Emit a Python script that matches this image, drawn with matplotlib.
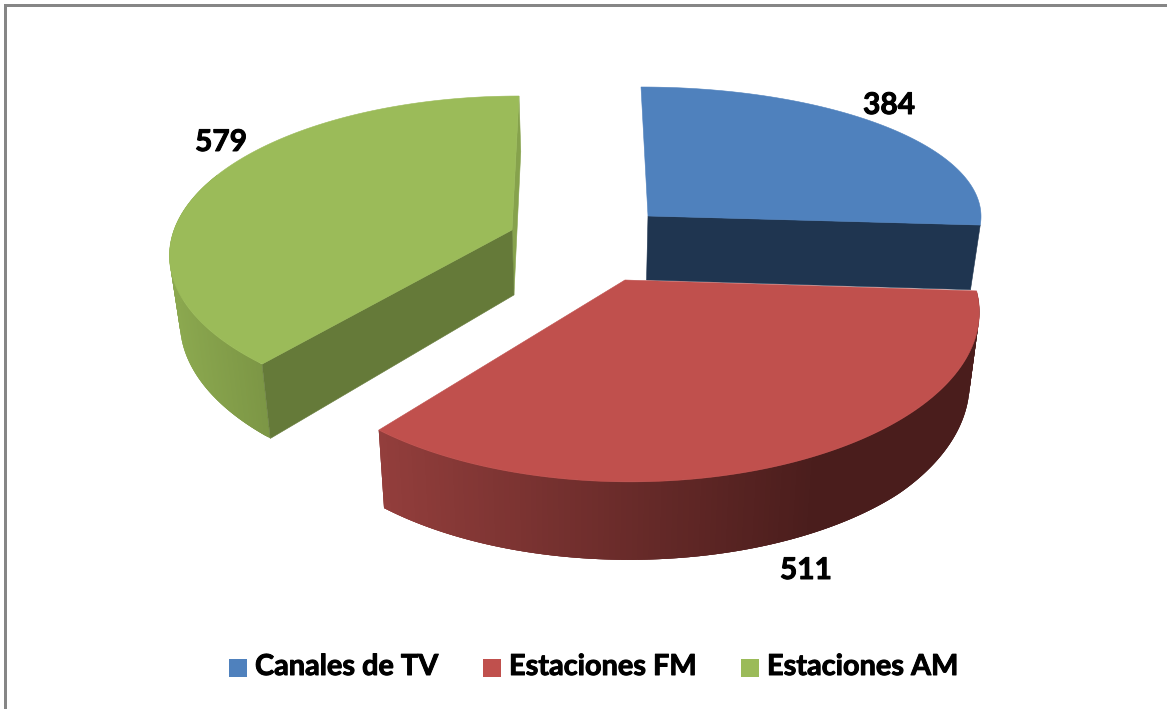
import numpy as np
import matplotlib
matplotlib.use("Agg")
import matplotlib.pyplot as plt
import matplotlib.patheffects as pe
from matplotlib.patches import Polygon, Rectangle
from matplotlib.colors import to_rgb

categories = ["Canales de TV", "Estaciones FM", "Estaciones AM"]
values = [384, 511, 579]
value_labels = ["384", "511", "579"]
colors_top = ["#4F81BD", "#C0504D", "#9BBB59"]

W, H = 1167, 709
fig = plt.figure(figsize=(W / 100, H / 100), dpi=100, facecolor="white")
ax = fig.add_axes([0, 0, 1, 1])
ax.set_xlim(0, W)
ax.set_ylim(H, 0)
ax.axis("off")
plt.rcParams["font.family"] = ["Lato", "DejaVu Sans"]

# per-slice projected geometry of the tilted, exploded pie (layout, not data)
apex_px = [(648, 216), (625, 280), (512, 230)]
ell_c = [(641, 216.5), (630, 280), (519, 220.6)]
ell_r = [(340, 129.5), (343, 163.5), (341, 152)]
ell_k = [0.0, 0.19, 0.22]      # perspective

fracs = np.array(values, dtype=float) / sum(values)
ends = np.cumsum(fracs) * 2 * np.pi
starts = ends - fracs * 2 * np.pi


def lower(p):
    x, y = p
    return x + (590 - x) * 0.025, y + min(64 + 0.07 * (y - 216), 78)


def rim(i, th):
    D = 1 + ell_k[i] * np.cos(th)
    return ell_c[i][0] + ell_r[i][0] * np.sin(th) / D, ell_c[i][1] - ell_r[i][1] * np.cos(th) / D


def poly(pts, color, z, lw=0.4):
    ax.add_patch(Polygon(pts, closed=True, facecolor=color, edgecolor=color if lw else "none", lw=lw, zorder=z))


def mix(c1, c2, t):
    return tuple((1 - t) * a + t * b for a, b in zip(to_rgb(c1), to_rgb(c2)))


def outer_wall(i, t0, t1, x0, x1, c0, c1, z, n=160):
    """Side wall shaded by screen x: c0 at x0 to c1 at x1, clamped."""
    edges = np.linspace(t0, t1, n + 1)
    for j in range(n):
        k = min(j + 3, n)   # overlap the next strips so no seams show
        a, b = rim(i, edges[j]), rim(i, edges[k])
        t = np.clip((rim(i, edges[j])[0] - x0) / (x1 - x0), 0, 1)
        poly([a, b, lower(b), lower(a)], mix(c0, c1, t), z, lw=0)


def top(i, z):
    th = np.linspace(starts[i], ends[i], 160)
    poly([apex_px[i]] + [rim(i, t) for t in th], colors_top[i], z)


def flat_wall(i, th, color, z):
    r = rim(i, th)
    poly([apex_px[i], r, lower(r), lower(apex_px[i])], color, z)


# green slice
flat_wall(2, ends[2], "#86A24C", 1)
outer_wall(2, starts[2], starts[2] + np.radians(70), 175, 265, "#8BA84F", "#7C9645", 1)
flat_wall(2, starts[2], "#657A39", 2)
top(2, 3)

# blue slice
flat_wall(0, ends[0], "#1F3550", 4)
top(0, 5)

# red slice
outer_wall(1, starts[1], ends[1], 380, 820, "#933E3C", "#4A1D1C", 6)
top(1, 7)

# chart frame (top and left edges only)
ax.plot([4.5, 4.5, W], [H, 4.5, 4.5], color="#868686", lw=2.16, zorder=0, solid_joinstyle="miter")

stroke = [pe.withStroke(linewidth=0.7, foreground="black")]

# data labels
label_xy = [(889, 105), (806, 570), (221, 142)]
for t, (x, y) in zip(value_labels, label_xy):
    ax.text(x, y, t, ha="center", va="center", fontsize=21.5, fontweight="bold", color="black", zorder=10, path_effects=stroke)

# legend
swatch_x = [229, 483, 741]
text_x = [255, 509, 767]
for c, label, sx, tx in zip(colors_top, categories, swatch_x, text_x):
    ax.add_patch(Rectangle((sx, 659), 18, 18, facecolor=c, edgecolor="none", zorder=10))
    ax.text(tx, 667, label, ha="left", va="center", fontsize=20.8, fontweight="bold", color="black", zorder=10, path_effects=stroke)

fig.savefig("out.png", dpi=100, facecolor="white")
